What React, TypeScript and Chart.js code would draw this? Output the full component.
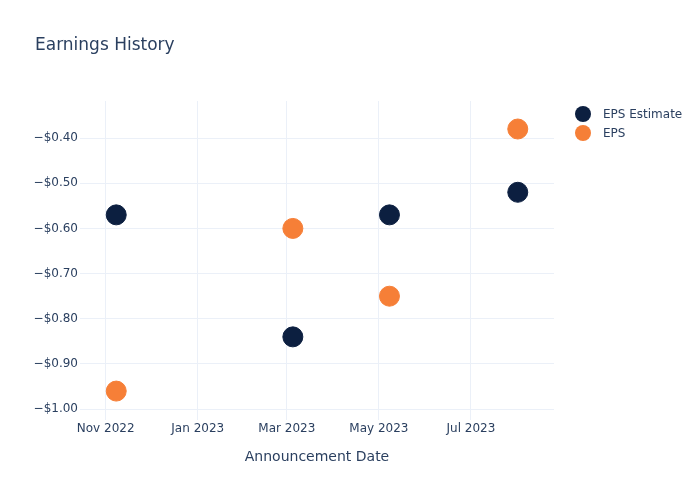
import React, { useEffect, useRef } from "react";
import { Chart, registerables } from "chart.js";

Chart.register(...registerables);

const title = "Earnings History";
const xAxisTitle = "Announcement Date";
const seriesNames = ["EPS Estimate", "EPS"];
const seriesColors = ["#0c1f40", "#f67f37"];
const announcementDates = ["2022-11-08", "2023-03-05", "2023-05-08", "2023-08-01"];
const epsEstimate = [-0.57, -0.84, -0.57, -0.52];
const epsActual = [-0.96, -0.6, -0.75, -0.38];
const yTicks = [-1.0, -0.9, -0.8, -0.7, -0.6, -0.5, -0.4];
const xTickMonths = ["2022-11-01", "2023-01-01", "2023-03-01", "2023-05-01", "2023-07-01"];
const monthNames = ["Jan", "Feb", "Mar", "Apr", "May", "Jun", "Jul", "Aug", "Sep", "Oct", "Nov", "Dec"];
const xRange = ["2022-10-15", "2023-08-25"];
const yRange = [-1.024, -0.318];

const ts = (s: string) => {
  const [y, m, d] = s.split("-").map(Number);
  return Date.UTC(y, m - 1, d);
};

const FONT = "'DejaVu Sans', sans-serif";
const TEXT = "#2a3f5f";
const GRID = "#ebf0f8";

export default function App() {
  const ref = useRef<HTMLCanvasElement | null>(null);
  useEffect(() => {
    const overlay = {
      id: "overlay",
      afterDraw(chart: any) {
        const ctx = chart.ctx;
        ctx.save();
        ctx.fillStyle = TEXT;
        ctx.font = `17px ${FONT}`;
        ctx.textAlign = "left";
        ctx.textBaseline = "middle";
        ctx.fillText(title, 35, 46);
        ctx.font = `12px ${FONT}`;
        seriesNames.forEach((n, i) => {
          const y = 114 + i * 19;
          ctx.beginPath();
          ctx.arc(583, y, 8, 0, Math.PI * 2);
          ctx.fillStyle = seriesColors[i];
          ctx.fill();
          ctx.fillStyle = TEXT;
          ctx.fillText(n, 603, y + 1);
        });
        ctx.restore();
      },
    };
    const chart = new Chart(ref.current!, {
      type: "scatter",
      data: {
        datasets: [
          {
            label: seriesNames[0],
            data: announcementDates.map((d, i) => ({ x: ts(d), y: epsEstimate[i] })),
            backgroundColor: seriesColors[0],
            borderColor: seriesColors[0],
            pointRadius: 10,
            pointHoverRadius: 10,
          },
          {
            label: seriesNames[1],
            data: announcementDates.map((d, i) => ({ x: ts(d), y: epsActual[i] })),
            backgroundColor: seriesColors[1],
            borderColor: seriesColors[1],
            pointRadius: 10,
            pointHoverRadius: 10,
          },
        ],
      },
      options: {
        animation: false,
        responsive: false,
        layout: { padding: { left: 0, right: 146, top: 101, bottom: 32 } },
        plugins: { legend: { display: false }, title: { display: false }, tooltip: { enabled: false } },
        scales: {
          x: {
            type: "linear",
            min: ts(xRange[0]),
            max: ts(xRange[1]),
            afterBuildTicks: (s: any) => {
              s.ticks = xTickMonths.map((m) => ({ value: ts(m) }));
            },
            afterFit: (s: any) => {
              s.height = 48;
            },
            grid: { color: GRID, drawTicks: false, lineWidth: 1 },
            border: { display: false },
            ticks: {
              color: TEXT,
              font: { family: FONT, size: 12 },
              padding: 2,
              maxRotation: 0,
              autoSkip: false,
              callback: (v: any) => {
                const d = new Date(Number(v));
                return `${monthNames[d.getUTCMonth()]} ${d.getUTCFullYear()}`;
              },
            },
            title: {
              display: true,
              text: xAxisTitle,
              color: TEXT,
              font: { family: FONT, size: 14 },
              padding: { top: 12, bottom: 2 },
            },
          },
          y: {
            min: yRange[0],
            max: yRange[1],
            afterBuildTicks: (s: any) => {
              s.ticks = yTicks.map((v) => ({ value: v }));
            },
            afterFit: (s: any) => {
              s.width = 80;
            },
            grid: { color: GRID, drawTicks: false, lineWidth: 1 },
            border: { display: false },
            ticks: {
              color: TEXT,
              font: { family: FONT, size: 12 },
              padding: 2,
              callback: (v: any) => {
                const n = Number(v);
                return (n < 0 ? "\u2212" : "") + "$" + Math.abs(n).toFixed(2);
              },
            },
          },
        },
      },
      plugins: [overlay],
    } as any);
    return () => chart.destroy();
  }, []);
  return (
    <div style={{ position: "fixed", left: 0, top: 0, width: 700, height: 500, background: "#fff" }}>
      <canvas ref={ref} width={700} height={500} style={{ width: 700, height: 500 }} />
    </div>
  );
}
